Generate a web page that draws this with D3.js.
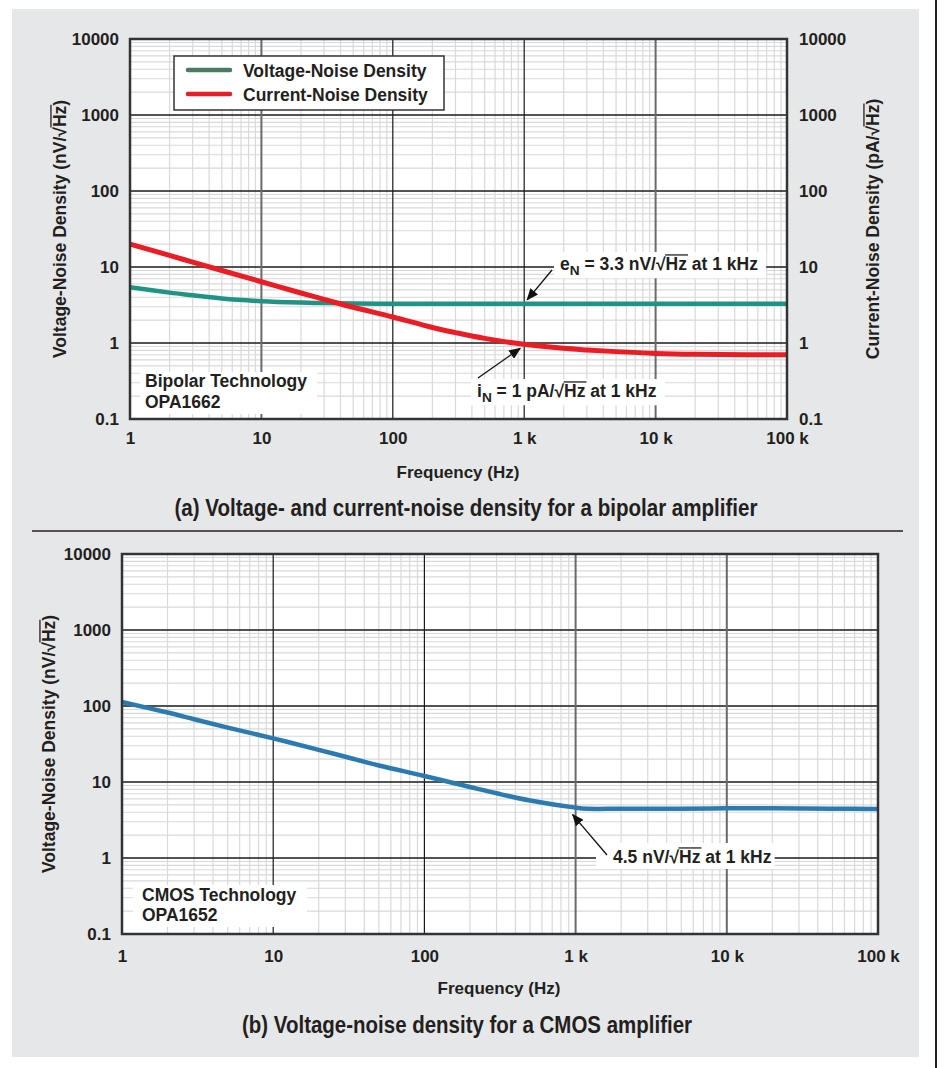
<!DOCTYPE html>
<html><head><meta charset="utf-8">
<script src="https://cdn.jsdelivr.net/npm/d3@7"></script>
<style>
body{margin:0;background:#fff;}
svg text{font-family:"Liberation Sans", Arial, Helvetica, sans-serif;font-weight:bold;fill:#231f20;}
</style>
</head><body>
<svg id="c" width="946" height="1068"></svg>
<script>
// ---------- data ----------
const freqA = [1, 2, 3, 5, 10, 20, 30, 50, 100, 200, 300, 500, 1000, 2000, 3000, 5000, 10000, 20000, 50000, 100000];
const voltageNoiseA = [5.4, 4.6, 4.25, 3.85, 3.55, 3.4, 3.35, 3.3, 3.28, 3.28, 3.28, 3.28, 3.28, 3.28, 3.28, 3.28, 3.28, 3.28, 3.28, 3.28];
const currentNoiseA = [20, 14.2, 11.6, 9.0, 6.4, 4.55, 3.75, 2.95, 2.2, 1.6, 1.37, 1.15, 0.96, 0.85, 0.81, 0.77, 0.73, 0.71, 0.70, 0.70];
const freqB = [1, 2, 3, 5, 10, 20, 30, 50, 100, 200, 300, 500, 1000, 1200, 2000, 5000, 10000, 20000, 50000, 100000];
const voltageNoiseB = [113, 82, 67, 52, 37.5, 26.5, 21.5, 16.5, 12, 8.6, 7.1, 5.7, 4.6, 4.45, 4.45, 4.45, 4.5, 4.5, 4.45, 4.4];
const xTickValues = [1, 10, 100, 1000, 10000, 100000];
const xTickLabels = ["1", "10", "100", "1 k", "10 k", "100 k"];
const yTickValues = [0.1, 1, 10, 100, 1000, 10000];
const yTickLabels = ["0.1", "1", "10", "100", "1000", "10000"];
const seriesNamesA = ["Voltage-Noise Density", "Current-Noise Density"];

const C_TEAL = "#1f9384", C_LEG_V = "#4b7b60", C_RED = "#ec1c24", C_BLUE = "#2b7bb1";
const FS = 17.5;

const svg = d3.select("#c");
svg.append("rect").attr("x", 12).attr("y", 9).attr("width", 907).attr("height", 1048).attr("fill", "#e6e7e8");
svg.append("line").attr("x1", 936).attr("x2", 936).attr("y1", 0).attr("y2", 1068).attr("stroke", "#231f20").attr("stroke-width", 2);
svg.append("line").attr("x1", 32).attr("x2", 903).attr("y1", 531).attr("y2", 531).attr("stroke", "#231f20").attr("stroke-width", 1.5);

const defs = svg.append("defs");
defs.append("marker").attr("id", "arr").attr("viewBox", "0 0 12 10").attr("refX", 11).attr("refY", 5)
  .attr("markerWidth", 12).attr("markerHeight", 10).attr("markerUnits", "userSpaceOnUse").attr("orient", "auto")
  .append("path").attr("d", "M0,0 L12,5 L0,10 Z").attr("fill", "#111");

// rich text with subscripts and sqrt overlines
function rich(parent, x, y, parts, fs, anchor) {
  const t = parent.append("text").attr("x", x).attr("y", y).attr("font-size", fs).attr("text-anchor", anchor || "start");
  let idx = 0, shift = 0; const overs = [];
  parts.forEach(p => {
    const s = t.append("tspan").text(p.t);
    const want = p.sub ? fs * 0.3 : 0;
    if (want !== shift) { s.attr("dy", want - shift); shift = want; }
    if (p.sub) s.attr("font-size", fs * 0.78);
    if (p.over) overs.push([idx, p.t.length]);
    idx += p.t.length;
  });
  const node = t.node();
  overs.forEach(([i, n]) => {
    const xs = node.getStartPositionOfChar(i).x, xe = node.getEndPositionOfChar(i + n - 1).x;
    parent.append("line").attr("x1", xs - 0.5).attr("x2", xe + 1).attr("y1", y - fs * 0.86).attr("y2", y - fs * 0.86)
      .attr("stroke", "#231f20").attr("stroke-width", 1.3);
  });
  return t;
}
function sqrtParts(prefix, suffix) {
  return [{t: prefix + "\u221A"}, {t: "Hz", over: true}, {t: suffix}];
}
function rotTitle(cx, cy, parts) {
  const g = svg.append("g").attr("transform", `translate(${cx},${cy}) rotate(-90)`);
  rich(g, 0, 0, parts, FS, "middle");
}
function box(layer, textSel, padL, padR, padT, padB) {
  const b = textSel.node().getBBox();
  layer.append("rect").attr("x", b.x - padL).attr("y", b.y - padT).attr("width", b.width + padL + padR)
    .attr("height", b.height + padT + padB).attr("fill", "#fff");
}

function panel(x, y, vMajor) {
  const [x0, x1] = x.range(), [y0, y1] = y.range();
  const g = svg.append("g");
  g.append("rect").attr("x", x0).attr("y", y1).attr("width", x1 - x0).attr("height", y0 - y1).attr("fill", "#fff");
  const minX = [], minY = [];
  [1, 10, 100, 1000, 10000].forEach(d => { for (let k = 2; k <= 9; k++) minX.push(d * k); });
  [0.1, 1, 10, 100, 1000].forEach(d => { for (let k = 2; k <= 9; k++) minY.push(d * k); });
  g.selectAll(".mx").data(minX).join("line").attr("x1", d => x(d)).attr("x2", d => x(d)).attr("y1", y1).attr("y2", y0)
    .attr("stroke", "#d9d9d9").attr("stroke-width", 1.2);
  g.selectAll(".my").data(minY).join("line").attr("y1", d => y(d)).attr("y2", d => y(d)).attr("x1", x0).attr("x2", x1)
    .attr("stroke", "#d9d9d9").attr("stroke-width", 1.2);
  g.selectAll(".My").data(yTickValues.slice(1, -1)).join("line").attr("y1", d => y(d)).attr("y2", d => y(d)).attr("x1", x0).attr("x2", x1)
    .attr("stroke", "#1a1a1a").attr("stroke-width", 1.3);
  g.selectAll(".Mx").data(xTickValues.slice(1, -1)).join("line").attr("x1", d => x(d)).attr("x2", d => x(d)).attr("y1", y1).attr("y2", y0)
    .attr("stroke", (d, i) => vMajor[i] ? "#6a6a6a" : "#1a1a1a").attr("stroke-width", (d, i) => vMajor[i] ? 2 : 1.2);
  const boxes = svg.append("g");
  const curves = svg.append("g");
  svg.append("rect").attr("x", x0).attr("y", y1).attr("width", x1 - x0).attr("height", y0 - y1)
    .attr("fill", "none").attr("stroke", "#333").attr("stroke-width", 2.5);
  return {boxes, curves};
}
function styleAxis(g) {
  g.select(".domain").remove();
  g.attr("font-size", null).attr("font-family", null);
  g.selectAll("text").attr("font-size", 17).attr("fill", "#231f20");
}

// ---------- chart (a) ----------
const xA = d3.scaleLog().domain([1, 1e5]).range([130, 787]);
const yA = d3.scaleLog().domain([0.1, 1e4]).range([419, 39]);
const pA = panel(xA, yA, [true, false, false, true]);

svg.append("g").attr("transform", "translate(130,0)")
  .call(d3.axisLeft(yA).tickValues(yTickValues).tickFormat((d, i) => yTickLabels[i]).tickSize(0).tickPadding(11)).call(styleAxis);
svg.append("g").attr("transform", "translate(787,0)")
  .call(d3.axisRight(yA).tickValues(yTickValues).tickFormat((d, i) => yTickLabels[i]).tickSize(0).tickPadding(12)).call(styleAxis);
svg.append("g").attr("transform", "translate(0,419)")
  .call(d3.axisBottom(xA).tickValues(xTickValues).tickFormat((d, i) => xTickLabels[i]).tickSize(0).tickPadding(13)).call(styleAxis);

const lineA = (vals) => d3.line().x((d, i) => xA(freqA[i])).y(d => yA(d)).curve(d3.curveCatmullRom.alpha(0.5))(vals);
pA.curves.append("path").attr("d", lineA(voltageNoiseA)).attr("fill", "none").attr("stroke", C_TEAL).attr("stroke-width", 4.5);
pA.curves.append("path").attr("d", lineA(currentNoiseA)).attr("fill", "none").attr("stroke", C_RED).attr("stroke-width", 5);

// legend
const lg = svg.append("g");
lg.append("rect").attr("x", 174).attr("y", 56).attr("width", 270).attr("height", 54).attr("fill", "#fff").attr("stroke", "#333").attr("stroke-width", 1.5);
[C_LEG_V, C_RED].forEach((c, i) => {
  lg.append("line").attr("x1", 188).attr("x2", 230).attr("y1", 70 + i * 24).attr("y2", 70 + i * 24)
    .attr("stroke", c).attr("stroke-width", 4.5).attr("stroke-linecap", "round");
  lg.append("text").attr("x", 243).attr("y", 77 + i * 24).attr("font-size", FS).text(seriesNamesA[i]);
});

// annotations (a)
const annA = svg.append("g");
const tE = rich(annA, 560, 270, [{t: "e"}, {t: "N", sub: true}, {t: " = 3.3 nV/\u221A"}, {t: "Hz", over: true}, {t: " at 1 kHz"}], FS);
box(pA.boxes, tE, 6, 8, 2, 0);
annA.append("line").attr("x1", 552).attr("y1", 270).attr("x2", xA(1000) + 3).attr("y2", yA(3.28) - 4)
  .attr("stroke", "#111").attr("stroke-width", 1.3).attr("marker-end", "url(#arr)");
const tI = rich(annA, 477, 397, [{t: "i"}, {t: "N", sub: true}, {t: " = 1 pA/\u221A"}, {t: "Hz", over: true}, {t: " at 1 kHz"}], FS);
box(pA.boxes, tI, 6, 8, 2, 0);
annA.append("line").attr("x1", 478).attr("y1", 378).attr("x2", xA(1000) - 4).attr("y2", yA(0.96) + 4)
  .attr("stroke", "#111").attr("stroke-width", 1.3).attr("marker-end", "url(#arr)");
pA.boxes.append("rect").attr("x", 140).attr("y", 372).attr("width", 177).attr("height", 42).attr("fill", "#fff");
annA.append("text").attr("x", 145).attr("y", 387).attr("font-size", FS).text("Bipolar Technology");
annA.append("text").attr("x", 145).attr("y", 408).attr("font-size", FS).text("OPA1662");

rotTitle(66, 229, sqrtParts("Voltage-Noise Density (nV/", ")"));
rotTitle(879, 229, sqrtParts("Current-Noise Density (pA/", ")"));
svg.append("text").attr("x", 458).attr("y", 478).attr("font-size", 17).attr("text-anchor", "middle").text("Frequency (Hz)");
svg.append("text").attr("x", 466).attr("y", 516).attr("font-size", 24).attr("text-anchor", "middle")
  .attr("textLength", 583).attr("lengthAdjust", "spacingAndGlyphs")
  .style("font-family", "'Liberation Sans Narrow','Arial Narrow','Liberation Sans',Arial,sans-serif")
  .text("(a) Voltage- and current-noise density for a bipolar amplifier");

// ---------- chart (b) ----------
const xB = d3.scaleLog().domain([1, 1e5]).range([122, 878]);
const yB = d3.scaleLog().domain([0.1, 1e4]).range([934, 554]);
const pB = panel(xB, yB, [false, false, true, true]);
svg.append("g").attr("transform", "translate(122,0)")
  .call(d3.axisLeft(yB).tickValues(yTickValues).tickFormat((d, i) => yTickLabels[i]).tickSize(0).tickPadding(11)).call(styleAxis);
svg.append("g").attr("transform", "translate(0,934)")
  .call(d3.axisBottom(xB).tickValues(xTickValues).tickFormat((d, i) => xTickLabels[i]).tickSize(0).tickPadding(16)).call(styleAxis);

const lineB = d3.line().x((d, i) => xB(freqB[i])).y(d => yB(d)).curve(d3.curveCatmullRom.alpha(0.5));
pB.curves.append("path").attr("d", lineB(voltageNoiseB)).attr("fill", "none").attr("stroke", C_BLUE).attr("stroke-width", 4.5);

const annB = svg.append("g");
const t45 = rich(annB, 613, 863, sqrtParts("4.5 nV/", " at 1 kHz"), FS);
box(pB.boxes, t45, 17, 3, 4, 2);
annB.append("line").attr("x1", 607).attr("y1", 855).attr("x2", xB(1000) - 3).attr("y2", yB(4.6) + 7)
  .attr("stroke", "#111").attr("stroke-width", 1.3).attr("marker-end", "url(#arr)");
pB.boxes.append("rect").attr("x", 133).attr("y", 885).attr("width", 174).attr("height", 42).attr("fill", "#fff");
annB.append("text").attr("x", 142).attr("y", 901).attr("font-size", FS).text("CMOS Technology");
annB.append("text").attr("x", 142).attr("y", 921).attr("font-size", FS).text("OPA1652");

rotTitle(55, 744, sqrtParts("Voltage-Noise Density (nV/", ")"));
svg.append("text").attr("x", 499).attr("y", 994).attr("font-size", 17).attr("text-anchor", "middle").text("Frequency (Hz)");
svg.append("text").attr("x", 467).attr("y", 1033).attr("font-size", 24).attr("text-anchor", "middle")
  .attr("textLength", 450).attr("lengthAdjust", "spacingAndGlyphs")
  .style("font-family", "'Liberation Sans Narrow','Arial Narrow','Liberation Sans',Arial,sans-serif")
  .text("(b) Voltage-noise density for a CMOS amplifier");
</script>
</body></html>
